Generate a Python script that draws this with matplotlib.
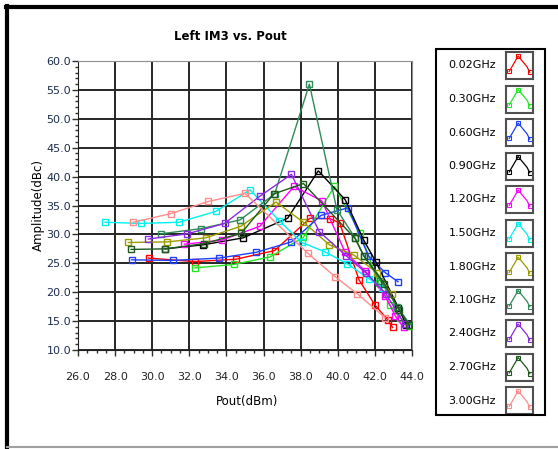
import matplotlib
matplotlib.use("Agg")
from matplotlib import pyplot as plt
from matplotlib.patches import Rectangle
import matplotlib.ticker as ticker

# Left IM3 sweep, one trace per carrier frequency
labels = ["0.02GHz", "0.30GHz", "0.60GHz", "0.90GHz", "1.20GHz", "1.50GHz",
          "1.80GHz", "2.10GHz", "2.40GHz", "2.70GHz", "3.00GHz"]
colors = ["#ff0000", "#22e622", "#1f3fff", "#000000", "#ff00ff", "#00f0f0",
          "#9c9c00", "#2e8b57", "#8a2be2", "#1e5a1e", "#ff8c8c"]

pout_002 = [29.8, 32.3, 34.5, 36.6, 38.5, 39.6, 40.1, 41.15, 42.0, 42.7, 42.95]
im3_002 = [25.9, 25.3, 25.7, 27.2, 32.8, 32.7, 32.0, 22.1, 17.8, 15.2, 13.9]

pout_030 = [32.3, 34.4, 36.35, 38.15, 39.82, 41.2, 42.2, 42.8, 43.35, 43.85]
im3_030 = [24.2, 24.8, 26.1, 29.5, 38.3, 30.3, 21.6, 17.8, 15.6, 14.2]

pout_060 = [28.9, 31.1, 33.6, 35.6, 37.5, 39.1, 40.55, 41.65, 42.55, 43.25]
im3_060 = [25.6, 25.5, 25.9, 26.9, 28.7, 33.3, 34.6, 26.3, 23.4, 21.8]

pout_090 = [30.7, 32.75, 34.9, 37.3, 38.95, 40.4, 41.4, 42.06, 43.27, 43.7]
im3_090 = [27.5, 28.2, 29.4, 32.8, 41.0, 36.0, 29.0, 25.2, 17.3, 14.3]

pout_120 = [31.73, 33.74, 35.8, 37.64, 39.14, 40.4, 41.47, 42.55, 43.1, 43.55]
im3_120 = [28.3, 29.0, 31.4, 38.3, 35.8, 26.9, 23.7, 19.4, 15.9, 13.9]

pout_150 = [27.46, 29.38, 31.44, 33.44, 35.27, 36.84, 38.06, 39.3, 40.52, 41.7, 42.4]
im3_150 = [32.1, 31.9, 32.1, 34.0, 37.7, 32.4, 28.6, 27.0, 24.9, 22.3, 20.8]

pout_180 = [28.71, 30.81, 32.88, 34.77, 36.67, 38.15, 39.55, 40.88, 42.1, 42.9]
im3_180 = [28.6, 28.7, 29.4, 31.4, 35.6, 32.1, 28.2, 26.4, 23.4, 19.7]

pout_210 = [30.46, 32.63, 34.73, 36.6, 38.47, 39.95, 40.95, 41.4, 42.3, 43.2, 43.9]
im3_210 = [30.1, 31.0, 32.5, 37.0, 56.0, 34.3, 29.3, 26.3, 22.0, 17.5, 14.4]

pout_240 = [29.79, 31.9, 33.9, 35.8, 37.5, 39.0, 40.45, 41.5, 42.6, 43.6]
im3_240 = [29.2, 30.1, 31.9, 36.6, 40.4, 30.5, 26.3, 23.4, 19.7, 14.5]

pout_270 = [28.86, 30.69, 32.8, 34.8, 36.55, 38.15, 40.93, 41.4, 42.5, 43.3, 43.85]
im3_270 = [27.4, 27.5, 28.4, 30.2, 37.0, 38.8, 29.3, 26.3, 21.5, 17.0, 14.3]

pout_300 = [28.98, 31.0, 33.03, 35.0, 38.4, 39.85, 41.06, 42.55]
im3_300 = [32.1, 33.6, 35.7, 37.1, 26.7, 22.7, 19.7, 15.6]

pouts = [pout_002, pout_030, pout_060, pout_090, pout_120, pout_150,
         pout_180, pout_210, pout_240, pout_270, pout_300]
im3s = [im3_002, im3_030, im3_060, im3_090, im3_120, im3_150,
        im3_180, im3_210, im3_240, im3_270, im3_300]

W, H = 558, 449
fig = plt.figure(figsize=(W / 100, H / 100), dpi=100)
plt.rcParams['font.family'] = ['DejaVu Sans']

def fx(px):
    return px / W

def fy(py):
    return 1 - py / H

# outer frame
fig.add_artist(plt.Line2D([fx(7), fx(7)], [fy(6), fy(447)], color="black", lw=3))
fig.add_artist(plt.Line2D([fx(6), fx(558)], [fy(7), fy(7)], color="black", lw=3))
fig.add_artist(plt.Line2D([fx(7), fx(558)], [fy(447), fy(447)], color="#a0a0a0", lw=1.5))

ax = fig.add_axes([fx(78), fy(350), fx(412) - fx(78), fy(61) - fy(350)])
for i in range(len(labels)):
    ax.plot(pouts[i], im3s[i], color=colors[i], lw=1.0, marker="s", ms=4.5,
            mfc="none", mec=colors[i], mew=1.0, zorder=3)

ax.set_xlim(26, 44)
ax.set_ylim(10, 60)
ax.xaxis.set_major_locator(ticker.MultipleLocator(2))
ax.xaxis.set_minor_locator(ticker.MultipleLocator(0.5))
ax.yaxis.set_major_locator(ticker.MultipleLocator(5))
ax.yaxis.set_minor_locator(ticker.MultipleLocator(1))
ax.xaxis.set_major_formatter(ticker.FormatStrFormatter("%.1f"))
ax.yaxis.set_major_formatter(ticker.FormatStrFormatter("%.1f"))
ax.grid(True, which="major", color="#262626", lw=1.4)
ax.tick_params(axis="both", which="major", length=4, width=1, labelsize=8, color="#303030")
ax.tick_params(axis="both", which="minor", length=2.5, width=1, color="#303030")
ax.tick_params(axis="x", which="major", pad=12, labelcolor="#222222")
ax.tick_params(axis="y", which="major", pad=1, labelcolor="#1c2c50")
for s in ["top", "right"]:
    ax.spines[s].set_color("#909090")
for s in ["left", "bottom"]:
    ax.spines[s].set_color("#202020")

fig.text(fx(230), fy(36), "Left IM3 vs. Pout", ha="center", va="center",
         fontsize=8.5, fontweight="bold")
fig.text(fx(247), fy(401), "Pout(dBm)", ha="center", va="center", fontsize=8.5)
fig.text(fx(38), fy(205), "Amplitude(dBc)", ha="center", va="center",
         fontsize=8.5, rotation=90)

# legend panel with a small glyph per trace
fig.add_artist(Rectangle((fx(436), fy(415)), fx(545) - fx(436), fy(49) - fy(415),
                         fill=False, ec="black", lw=1.5))
for i, lab in enumerate(labels):
    cy = 65.5 + 33.5 * i
    fig.text(fx(496), fy(cy), lab, ha="right", va="center", fontsize=8)
    sw = fig.add_axes([fx(506), fy(cy + 13.5), fx(27), fy(0) - fy(27)])
    sw.set_xlim(0, 1)
    sw.set_ylim(0, 1)
    sw.set_xticks([])
    sw.set_yticks([])
    for s in sw.spines.values():
        s.set_color("#505050")
        s.set_linewidth(1.5)
    sw.plot([0.12, 0.45, 0.78, 0.88], [0.28, 0.85, 0.45, 0.25], color=colors[i], lw=0.9,
            marker="s", ms=3, mfc="none", mec=colors[i], mew=0.8, markevery=[0, 1, 3])

fig.savefig("out.png", dpi=100)
